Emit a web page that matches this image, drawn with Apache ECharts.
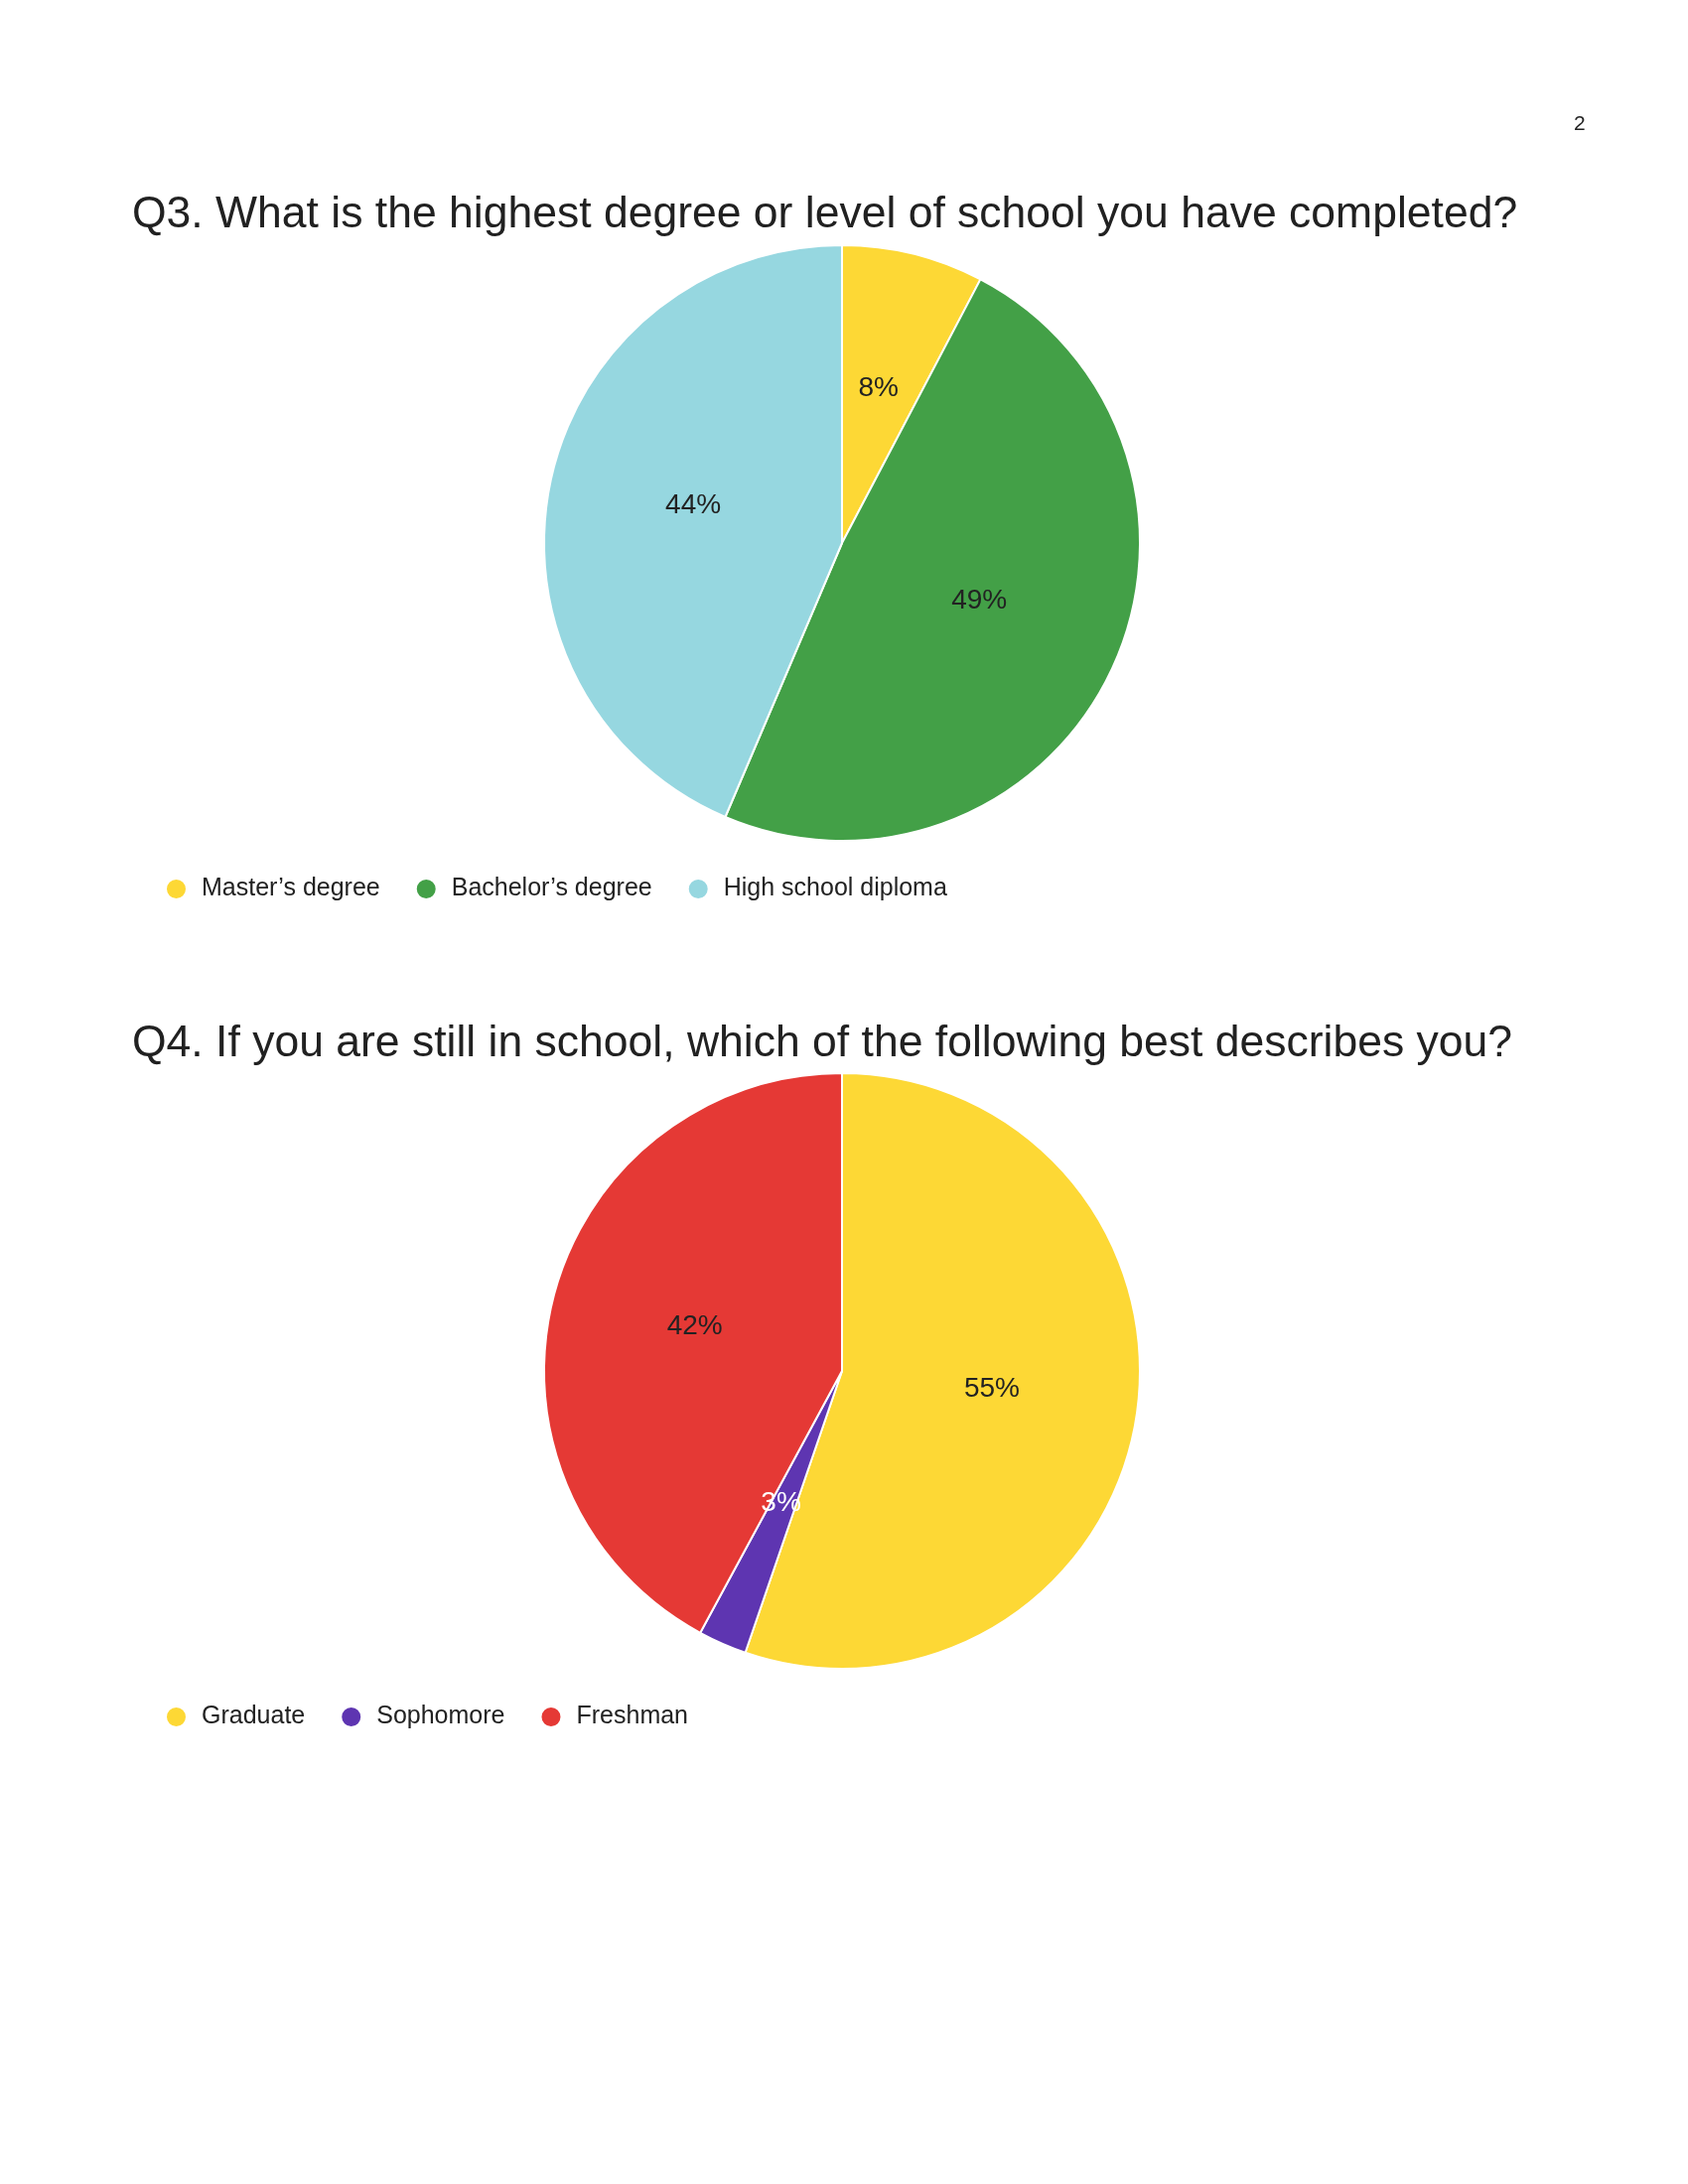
<!DOCTYPE html>
<html>
<head>
<meta charset="utf-8">
<script src="https://cdn.jsdelivr.net/npm/echarts@6/dist/echarts.min.js"></script>
<style>
  html, body { margin: 0; padding: 0; background: #ffffff; }
  #chart { width: 1700px; height: 2200px; }
</style>
</head>
<body>
<div id="chart"></div>
<script>
// ---- Data ----
const pageNumber = "2";

const q3Title = "Q3. What is the highest degree or level of school you have completed?";
const q3Categories = ["Master\u2019s degree", "Bachelor\u2019s degree", "High school diploma"];
const q3Counts = [3, 19, 17];
const q3Colors = ["#FDD835", "#43A047", "#96D7E0"];

const q4Title = "Q4. If you are still in school, which of the following best describes you?";
const q4Categories = ["Graduate", "Sophomore", "Freshman"];
const q4Counts = [21, 1, 16];
const q4Colors = ["#FDD835", "#5E35B1", "#E53935"];
const q4LabelColors = ["#222222", "#ffffff", "#222222"];

// ---- Helpers ----
const FONT = "Liberation Sans, Arial, sans-serif";

function buildData(cats, vals, labelColors) {
  return cats.map((c, i) => {
    const d = { name: c, value: vals[i] };
    if (labelColors) d.label = { color: labelColors[i] };
    return d;
  });
}

function pieSeries(name, center, cats, vals, colors, labelColors) {
  return {
    name: name,
    type: 'pie',
    center: center,
    radius: [0, 300],
    startAngle: 90,
    clockwise: true,
    color: colors,
    data: buildData(cats, vals, labelColors),
    itemStyle: { borderColor: '#ffffff', borderWidth: 2 },
    label: {
      show: true,
      position: 'inside',
      fontFamily: FONT,
      fontSize: 28,
      color: '#222222',
      offset: [0, -7],
      formatter: p => Math.round(p.percent) + '%'
    },
    labelLine: { show: false },
    emphasis: { disabled: true },
    silent: true
  };
}

const legendCommon = {
  orient: 'horizontal',
  left: 166,
  padding: 0,
  icon: 'circle',
  itemWidth: 21,
  itemHeight: 21,
  itemGap: 35,
  selectedMode: false,
  textStyle: {
    fontFamily: FONT,
    fontSize: 25,
    color: '#222222',
    padding: [0, 0, 0, 10]
  }
};

const chart = echarts.init(document.getElementById('chart'), null, { renderer: 'canvas' });

chart.setOption({
  backgroundColor: '#ffffff',
  animation: false,
  title: [
    {
      text: pageNumber,
      left: 1585,
      top: 115,
      padding: 0,
      textStyle: { fontFamily: FONT, fontSize: 21, fontWeight: 'normal', color: '#222222' }
    },
    {
      text: q3Title,
      left: 133,
      top: 194,
      padding: 0,
      textStyle: { fontFamily: FONT, fontSize: 44.5, fontWeight: 'normal', color: '#212121' }
    },
    {
      text: q4Title,
      left: 133,
      top: 1029,
      padding: 0,
      textStyle: { fontFamily: FONT, fontSize: 44.5, fontWeight: 'normal', color: '#212121' }
    }
  ],
  legend: [
    Object.assign({}, legendCommon, { top: 883, data: q3Categories }),
    Object.assign({}, legendCommon, { top: 1717, data: q4Categories })
  ],
  series: [
    pieSeries('Q3', [848, 547], q3Categories, q3Counts, q3Colors, null),
    pieSeries('Q4', [848, 1381], q4Categories, q4Counts, q4Colors, q4LabelColors)
  ]
});
</script>
</body>
</html>
